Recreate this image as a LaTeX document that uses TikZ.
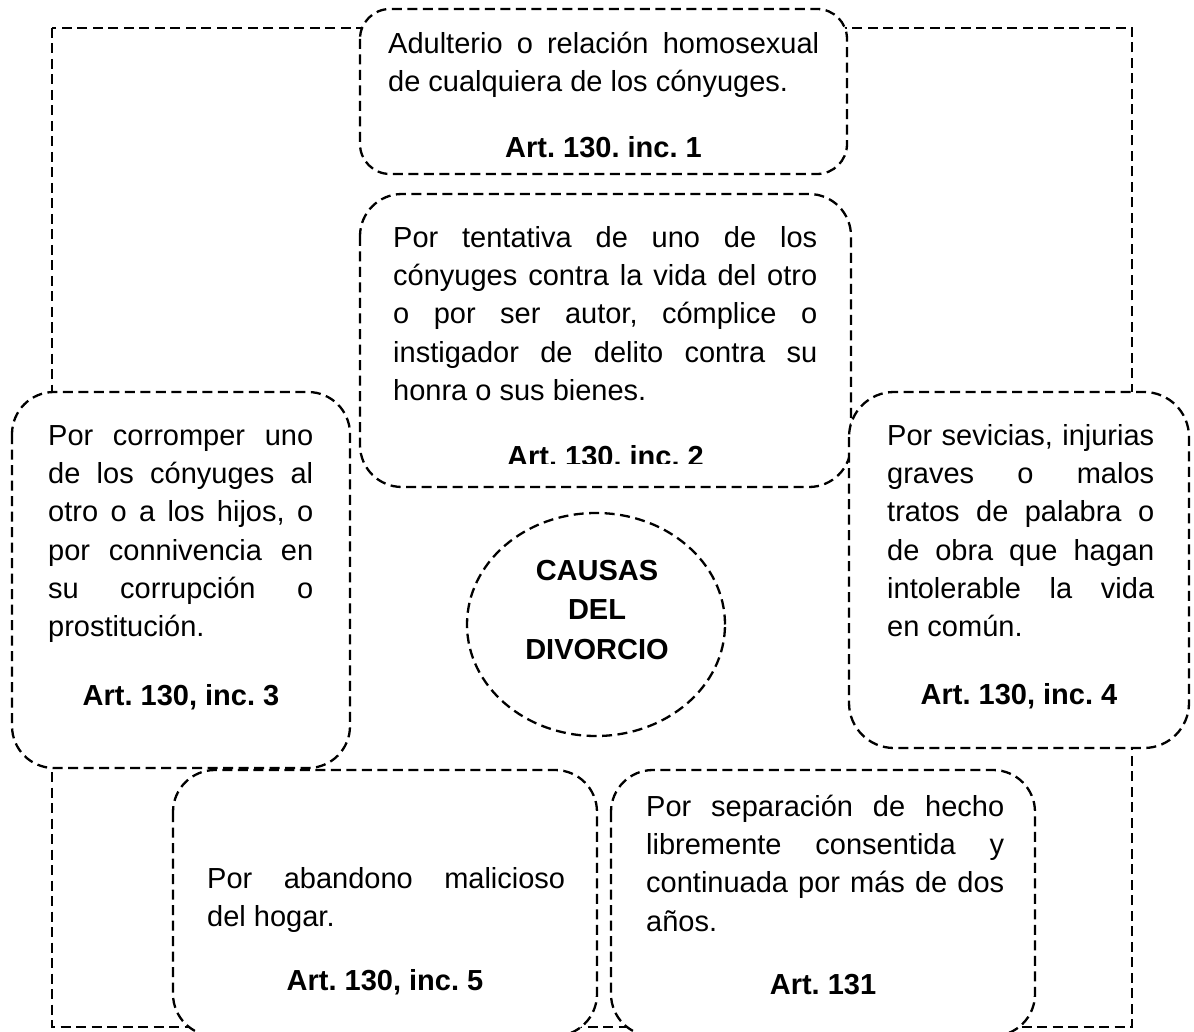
\documentclass[tikz,border=0pt]{standalone}
\usepackage{fontspec}
\setmainfont{Liberation Sans}
\usetikzlibrary{shapes.geometric}

\frenchspacing
\newcommand{\espaciado}{\noindent\spaceskip=0pt\xspaceskip=0pt\relax}
\newcommand{\renglon}[2]{\makebox[#1pt][s]{\strut #2}\\}

\tikzset{
	borde/.style={draw=black, line width=2.3pt, dash pattern=on 10pt off 5.5pt},
	caja/.style={borde, fill=white, rounded corners=#1pt},
	parrafo/.style={anchor=north west, yshift=26.81pt, inner sep=0pt, text width=#1pt, align=left, font=\fontsize{29}{38.3}\selectfont},
	articulo/.style={anchor=base, inner sep=0pt, font=\fontsize{29}{38.3}\selectfont\bfseries}
}

\begin{document}
\begin{tikzpicture}[x=1pt,y=-1pt]

	%Background
	\useasboundingbox (0,0) rectangle (1194,1032);
	\clip (0,0) rectangle (1194,1032);

	%Frame
	\draw[borde] (52,28) rectangle (1132,1027);

	%Boxes
	\draw[caja=30] (360,9) rectangle (847,174);
	\draw[caja=42] (360,194) rectangle (851,487);
	\draw[caja=42] (12,392) rectangle (350,768);
	\draw[caja=45] (849,392) rectangle (1189,748);
	\draw[caja=42] (173,770) rectangle (597,1036);
	\draw[caja=42] (611,770) rectangle (1035,1036);

	%Centre
	\node[ellipse, borde, minimum width=258pt, minimum height=223pt, inner sep=0pt] (centro) at (596,624.5) {};
	\node[align=center, inner sep=0pt, font=\fontsize{29}{39.5}\selectfont\bfseries] (titulo) at (597,610) {CAUSAS\\DEL\\DIVORCIO};

	%Inc. 1
	\node[parrafo=431] (t1) at (388,53) {\espaciado\renglon{431}{Adulterio o relación homosexual}de cualquiera de los cónyuges.};
	\node[articulo] (a1) at (603.5,158) {Art. 130. inc. 1};

	%Inc. 2
	\node[parrafo=424] (t2) at (393,247) {\espaciado\renglon{424}{Por tentativa de uno de los}\renglon{424}{cónyuges contra la vida del otro}\renglon{424}{o por ser autor, cómplice o}\renglon{424}{instigador de delito contra su}honra o sus bienes.};
	\begin{scope}
		\clip (360,194) rectangle (851,463);
		\node[articulo] (a2) at (605.5,466) {Art. 130. inc. 2};
	\end{scope}

	%Inc. 3
	\node[parrafo=265] (t3) at (48,445) {\espaciado\renglon{265}{Por corromper uno}\renglon{265}{de los cónyuges al}\renglon{265}{otro o a los hijos, o}\renglon{265}{por connivencia en}\renglon{265}{su corrupción o}prostitución.};
	\node[articulo] (a3) at (181,705) {Art. 130, inc. 3};

	%Inc. 4
	\node[parrafo=267] (t4) at (887,445) {\espaciado\renglon{267}{Por sevicias, injurias}\renglon{267}{graves o malos}\renglon{267}{tratos de palabra o}\renglon{267}{de obra que hagan}\renglon{267}{intolerable la vida}en común.};
	\node[articulo] (a4) at (1019,704) {Art. 130, inc. 4};

	%Inc. 5
	\node[parrafo=358] (t5) at (207,888) {\espaciado\renglon{358}{Por abandono malicioso}del hogar.};
	\node[articulo] (a5) at (385,990) {Art. 130, inc. 5};

	%Art. 131
	\node[parrafo=358] (t6) at (646,816) {\espaciado\renglon{358}{Por separación de hecho}\renglon{358}{libremente consentida y}\renglon{358}{continuada por más de dos}años.};
	\node[articulo] (a6) at (823,994) {Art. 131};

\end{tikzpicture}
\end{document}
